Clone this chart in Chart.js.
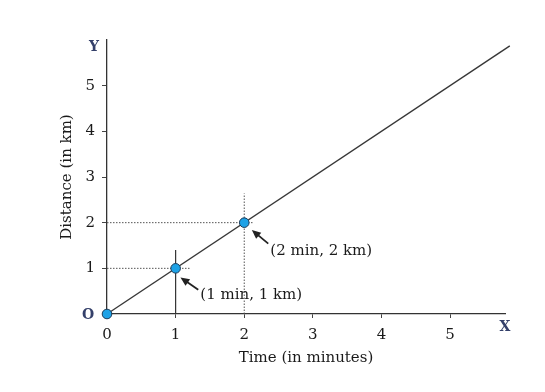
<!DOCTYPE html>
<html>
<head>
<meta charset="utf-8">
<script src="https://cdn.jsdelivr.net/npm/chart.js@4.4.1/dist/chart.umd.min.js"></script>
<style>
  html, body { margin: 0; padding: 0; background: #ffffff; }
  #wrap { width: 545px; height: 392px; }
</style>
</head>
<body>
<div id="wrap"><canvas id="c" width="545" height="392"></canvas></div>
<script>
// ---- data ----
const timeMin = [0, 1, 2];          // marked points, minutes
const distKm = [0, 1, 2];           // marked points, km
const lineTime = [0, 5.87];         // straight line extent, minutes
const lineDist = [0, 5.87];         // straight line extent, km
const xTickValues = [0, 1, 2, 3, 4, 5];
const yTickValues = [1, 2, 3, 4, 5];
const pointLabels = ['(1 min, 1 km)', '(2 min, 2 km)'];

// ---- guides & annotations (positions in data units) ----
const guides = [
  { pts: [[0, 1], [1.21, 1]], dash: [1.5, 1.5] },
  { pts: [[1, 0], [1, 1.4]], dash: [] },
  { pts: [[0, 2], [2.13, 2]], dash: [1.5, 1.5] },
  { pts: [[2, 0], [2, 2.64]], dash: [1.5, 1.5] }
];
const notes = [
  { text: pointLabels[0], tx: 1.36, ty: 0.42, tail: [1.33, 0.53], tip: [1.07, 0.80] },
  { text: pointLabels[1], tx: 2.38, ty: 1.38, tail: [2.35, 1.54], tip: [2.11, 1.84] }
];

const SERIF = '"DejaVu Serif", "Liberation Serif", serif';
const INK = '#1a1a1a';

const guideSets = guides.map(g => ({
  type: 'line',
  data: g.pts.map(p => ({ x: p[0], y: p[1] })),
  borderColor: g.dash.length ? '#555555' : '#333333',
  borderWidth: g.dash.length ? 1 : 1.2,
  borderDash: g.dash,
  pointRadius: 0,
  order: 3,
  clip: false
}));

const annotate = {
  id: 'annotate',
  afterDatasetsDraw(chart) {
    const { ctx } = chart;
    const xs = chart.scales.x, ys = chart.scales.y;
    const px = v => xs.getPixelForValue(v), py = v => ys.getPixelForValue(v);
    ctx.save();
    notes.forEach(n => {
      const x1 = px(n.tail[0]), y1 = py(n.tail[1]);
      const x2 = px(n.tip[0]), y2 = py(n.tip[1]);
      const ang = Math.atan2(y2 - y1, x2 - x1);
      ctx.strokeStyle = '#222';
      ctx.fillStyle = '#222';
      ctx.lineWidth = 1.8;
      ctx.beginPath();
      ctx.moveTo(x1, y1);
      ctx.lineTo(x2 - 5 * Math.cos(ang), y2 - 5 * Math.sin(ang));
      ctx.stroke();
      const L = 9, W = 4;
      ctx.beginPath();
      ctx.moveTo(x2, y2);
      ctx.lineTo(x2 - L * Math.cos(ang) + W * Math.sin(ang), y2 - L * Math.sin(ang) - W * Math.cos(ang));
      ctx.lineTo(x2 - L * Math.cos(ang) - W * Math.sin(ang), y2 - L * Math.sin(ang) + W * Math.cos(ang));
      ctx.closePath();
      ctx.fill();
      ctx.font = '15px ' + SERIF;
      ctx.fillStyle = INK;
      ctx.textAlign = 'left';
      ctx.textBaseline = 'middle';
      ctx.fillText(n.text, px(n.tx), py(n.ty));
    });
    // axis letters
    ctx.font = 'bold 14px ' + SERIF;
    ctx.fillStyle = '#34406a';
    ctx.textAlign = 'center';
    ctx.textBaseline = 'middle';
    ctx.fillText('Y', xs.left - 13, ys.top + 7);
    ctx.fillText('X', xs.right, xs.top + 13);
    ctx.fillText('O', xs.left - 19, ys.bottom + 1);
    ctx.restore();
  }
};

new Chart(document.getElementById('c'), {
  type: 'scatter',
  data: {
    datasets: [
      {
        type: 'scatter',
        data: timeMin.map((t, i) => ({ x: t, y: distKm[i] })),
        pointRadius: 4.8,
        pointBackgroundColor: '#1ea2e6',
        pointBorderColor: '#1c3b58',
        pointBorderWidth: 1,
        showLine: false,
        order: 0,
        clip: false
      },
      {
        type: 'line',
        data: lineTime.map((t, i) => ({ x: t, y: lineDist[i] })),
        borderColor: '#383838',
        borderWidth: 1.4,
        pointRadius: 0,
        order: 1,
        clip: false
      },
      ...guideSets
    ]
  },
  options: {
    responsive: false,
    animation: false,
    layout: { padding: { left: 0, right: 40, top: 40, bottom: 0 } },
    plugins: { legend: { display: false }, tooltip: { enabled: false } },
    scales: {
      x: {
        type: 'linear',
        min: 0,
        max: 5.8,
        afterFit(s) { s.height = 78; },
        afterBuildTicks(s) { s.ticks = xTickValues.map(v => ({ value: v })); },
        grid: { drawOnChartArea: false, drawTicks: true, tickLength: 4, color: '#444' },
        border: { display: true, color: '#333333', width: 1.3 },
        ticks: { padding: 8, color: INK, font: { family: SERIF, size: 15 } },
        title: { display: true, text: 'Time (in minutes)', color: INK,
                 font: { family: SERIF, size: 15 }, padding: { top: 0, bottom: 25 } }
      },
      y: {
        type: 'linear',
        min: 0,
        max: 6,
        afterFit(s) { s.width = 107; },
        afterBuildTicks(s) { s.ticks = yTickValues.map(v => ({ value: v })); },
        grid: { drawOnChartArea: false, drawTicks: true, tickLength: 5, color: '#444' },
        border: { display: true, color: '#333333', width: 1.3 },
        ticks: { padding: 7, color: INK, font: { family: SERIF, size: 15 } },
        title: { display: true, text: 'Distance (in km)', color: INK,
                 font: { family: SERIF, size: 15 }, padding: { top: 58, bottom: 0 } }
      }
    }
  },
  plugins: [annotate]
});
</script>
</body>
</html>
